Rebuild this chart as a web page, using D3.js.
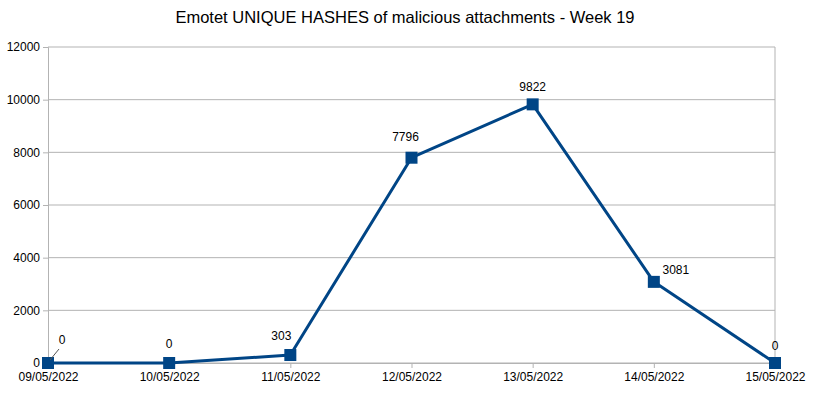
<!DOCTYPE html>
<html>
<head>
<meta charset="utf-8">
<script src="https://cdn.jsdelivr.net/npm/d3@7"></script>
<style>
  body { margin: 0; background: #fff; }
  text { font-family: "Liberation Sans", Arial, sans-serif; fill: #000; }
</style>
</head>
<body>
<div id="chart"></div>
<script>
// data
var dates = ["09/05/2022", "10/05/2022", "11/05/2022", "12/05/2022",
             "13/05/2022", "14/05/2022", "15/05/2022"];
var hashes = [0, 0, 303, 7796, 9822, 3081, 0];
var yTicks = [0, 2000, 4000, 6000, 8000, 10000, 12000];

var W = 813, H = 394;
var margin = {top: 47, right: 38, bottom: 31, left: 48},
    width = W - margin.left - margin.right,
    height = H - margin.top - margin.bottom;

var color = "#004586";

var svg = d3.select("#chart").append("svg")
    .attr("width", W)
    .attr("height", H);

svg.append("text")
    .attr("x", 405)
    .attr("y", 23)
    .attr("text-anchor", "middle")
    .style("font-size", "16.5px")
    .text("Emotet UNIQUE HASHES of malicious attachments - Week 19");

var g = svg.append("g")
    .attr("transform", "translate(" + margin.left + "," + margin.top + ")");

var x = d3.scalePoint().domain(dates).range([0, width]);
var y = d3.scaleLinear().domain([0, 12000]).range([height, 0]);

// horizontal grid
g.append("g").selectAll("line")
  .data(yTicks)
  .enter().append("line")
    .attr("x1", 0).attr("x2", width)
    .attr("y1", function(d) { return y(d); })
    .attr("y2", function(d) { return y(d); })
    .attr("stroke", "#b3b3b3");

// right border
g.append("line")
    .attr("x1", width).attr("x2", width)
    .attr("y1", 0).attr("y2", height)
    .attr("stroke", "#b3b3b3");

// Y axis
var yAxis = g.append("g")
    .call(d3.axisLeft(y).tickValues(yTicks).tickSize(5).tickPadding(3).tickFormat(d3.format("d")));
yAxis.select(".domain").attr("stroke", "#b3b3b3");
yAxis.selectAll(".tick line").attr("stroke", "#b3b3b3");
yAxis.selectAll("text").style("font-size", "12px").attr("fill", "#000");

// X axis
var xAxis = g.append("g")
    .attr("transform", "translate(0," + height + ")")
    .call(d3.axisBottom(x).tickSize(5).tickPadding(4));
xAxis.select(".domain").attr("stroke", "#b3b3b3");
xAxis.selectAll(".tick line").attr("stroke", "#b3b3b3");
xAxis.selectAll("text").style("font-size", "12px").attr("fill", "#000");

// line
var line = d3.line()
    .x(function(d, i) { return x(dates[i]); })
    .y(function(d) { return y(d); });

g.append("path")
    .datum(hashes)
    .attr("fill", "none")
    .attr("stroke", color)
    .attr("stroke-width", 3)
    .attr("stroke-linejoin", "round")
    .attr("d", line);

// markers
var s = 12;
g.append("g").selectAll("rect")
  .data(hashes)
  .enter().append("rect")
    .attr("x", function(d, i) { return x(dates[i]) - s / 2; })
    .attr("y", function(d) { return y(d) - s / 2; })
    .attr("width", s)
    .attr("height", s)
    .attr("fill", color);

// value labels (small nudges so they don't sit on the line)
var nudge = [[14, -19], [0, -15], [-9, -15], [-6, -17], [0, -13], [22, -8], [0, -13]];

// leader line for the first label
g.append("line")
    .attr("x1", x(dates[0]) + 2).attr("y1", y(hashes[0]) - 3)
    .attr("x2", x(dates[0]) + 11).attr("y2", y(hashes[0]) - 14)
    .attr("stroke", "#555").attr("stroke-width", 1);

g.append("g").selectAll("text")
  .data(hashes)
  .enter().append("text")
    .attr("x", function(d, i) { return x(dates[i]) + nudge[i][0]; })
    .attr("y", function(d, i) { return y(d) + nudge[i][1]; })
    .attr("text-anchor", "middle")
    .style("font-size", "12px")
    .text(function(d) { return d; });
</script>
</body>
</html>
